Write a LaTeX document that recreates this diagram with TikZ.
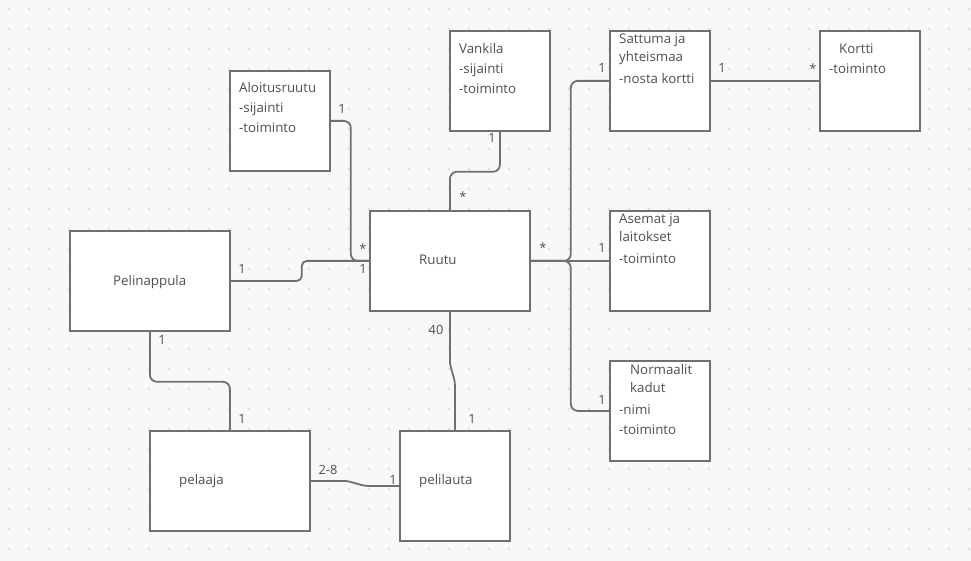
\documentclass[tikz,border=0pt]{standalone}
\usepackage{fontspec}
\setmainfont{Open Sans}
\usetikzlibrary{calc}
\definecolor{paper}{HTML}{F8F8FA}
\definecolor{griddot}{HTML}{DEDEE2}
\definecolor{edge}{HTML}{707070}
\definecolor{ink}{HTML}{4F4F4F}
\begin{document}
\begin{tikzpicture}[x=1pt,y=-1pt,
  box/.style={draw=edge,line width=1.8pt,fill=white,rectangle,anchor=north west,inner sep=0pt},
  txt/.style={anchor=base west,inner sep=0pt,text=ink,font=\fontsize{13.3}{16}\selectfont},
  mult/.style={anchor=base,inner sep=0pt,text=ink,font=\fontsize{12.8}{15}\selectfont},
  conn/.style={draw=edge,line width=1.8pt,rounded corners=7pt}]
% canvas and dot grid
\fill[paper] (0,0) rectangle (971,561);
\useasboundingbox (0,0) rectangle (971,561);
\foreach \i in {0,...,48}{
  \foreach \j in {0,...,27}{
    \fill[griddot] ({9+20*\i},{9+20*\j}) circle (1.3);
  }
}
% class boxes
\node[box,minimum width=100pt,minimum height=100pt] (alo) at (229,70) {};
\node[box,minimum width=100pt,minimum height=100pt] (van) at (449,30) {};
\node[box,minimum width=100pt,minimum height=100pt] (satt) at (609,30) {};
\node[box,minimum width=100pt,minimum height=100pt] (kortti) at (819,30) {};
\node[box,minimum width=160pt,minimum height=100pt] (pel) at (69,230) {};
\node[box,minimum width=160pt,minimum height=100pt] (ruutu) at (369,210) {};
\node[box,minimum width=100pt,minimum height=100pt] (asemat) at (609,210) {};
\node[box,minimum width=100pt,minimum height=100pt] (norm) at (609,360) {};
\node[box,minimum width=160pt,minimum height=100pt] (pelaaja) at (149,430) {};
\node[box,minimum width=110pt,minimum height=110pt] (lauta) at (399,430) {};
% box texts
\node[txt] (aloT1) at (239,93) {Aloitusruutu};
\node[txt] (aloT2) at (239,113) {-sijainti};
\node[txt] (aloT3) at (239,133) {-toiminto};
\node[txt] (vanT1) at (459,54) {Vankila};
\node[txt] (vanT2) at (459,74) {-sijainti};
\node[txt] (vanT3) at (459,94) {-toiminto};
\node[txt] (sattT1) at (619,44) {Sattuma ja};
\node[txt] (sattT2) at (619,62) {yhteismaa};
\node[txt] (sattT3) at (619,84) {-nosta kortti};
\node[txt] (korT1) at (839,54) {Kortti};
\node[txt] (korT2) at (829,74) {-toiminto};
\node[txt] (pelT) at (113,285) {Pelinappula};
\node[txt] (ruuT) at (419,265) {Ruutu};
\node[txt] (asT1) at (619,224) {Asemat ja};
\node[txt] (asT2) at (619,242) {laitokset};
\node[txt] (asT3) at (619,264) {-toiminto};
\node[txt] (noT1) at (630,374) {Normaalit};
\node[txt] (noT2) at (630,392) {kadut};
\node[txt] (noT3) at (619,414) {-nimi};
\node[txt] (noT4) at (619,434) {-toiminto};
\node[txt] (plT) at (179,484) {pelaaja};
\node[txt] (llT) at (419,484) {pelilauta};
% associations
\draw[conn] (alo.east) -- ++(20,0) |- (ruutu.west);
\draw[conn,rounded corners=5pt] (pel.east) -- ++(71,0) |- (ruutu.west);
\draw[conn] (van.south) -- ++(0,40) -| (ruutu.north);
\draw[conn] (ruutu.east) -- ++(40,0) |- (satt.west);
\draw[conn] (ruutu.east) -- (asemat.west);
\draw[conn] (ruutu.east) -- ++(40,0) |- (norm.west);
\draw[conn] (satt.east) -- (kortti.west);
\draw[conn] (pel.south) -- ++(0,50) -| (pelaaja.north);
\draw[conn,rounded corners=3pt] (ruutu.south) -- ++(0,52) -- ++(5,18) -- (lauta.north);
\draw[conn,rounded corners=3pt] (pelaaja.east) -- ++(36,0) -- ++(18,5) -- (lauta.west);
% multiplicities
\node[mult] (m1) at (342,114) {1};
\node[mult] (m2) at (363,254) {*};
\node[mult] (m3) at (363,273) {1};
\node[mult] (m4) at (242,273) {1};
\node[mult] (m5) at (492,143) {1};
\node[mult] (m6) at (463,202) {*};
\node[mult] (m7) at (602,73) {1};
\node[mult] (m8) at (722,73) {1};
\node[mult] (m9) at (813,74) {*};
\node[mult] (m10) at (543,253) {*};
\node[mult] (m11) at (602,253) {1};
\node[mult] (m12) at (602,404) {1};
\node[mult] (m13) at (162,344) {1};
\node[mult] (m14) at (242,423) {1};
\node[mult] (m15) at (436,334) {40};
\node[mult] (m16) at (472,423) {1};
\node[mult] (m17) at (328,474) {2-8};
\node[mult] (m18) at (393,484) {1};
\end{tikzpicture}
\end{document}
